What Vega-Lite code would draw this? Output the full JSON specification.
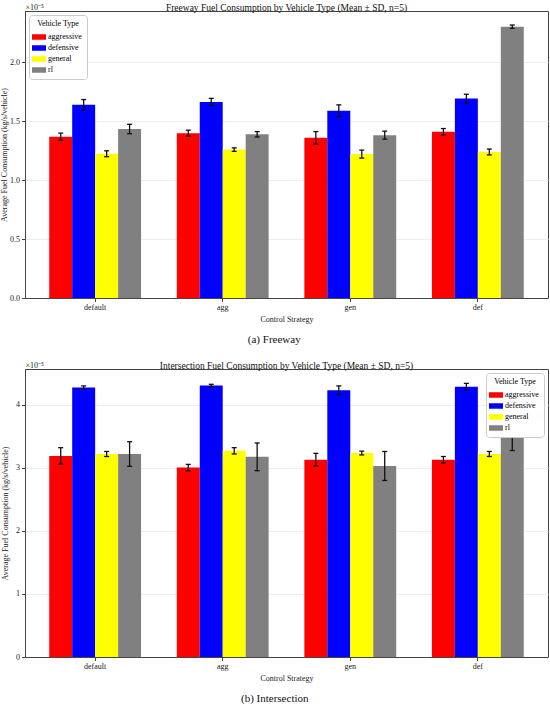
{
  "$schema": "https://vega.github.io/schema/vega-lite/v6.json",
  "padding": {"left": 0, "top": 2, "right": 2, "bottom": 0},
  "spacing": 15,
  "columns": 1,
  "resolve": {"legend": {"color": "independent"}, "scale": {"color": "independent"}},
  "datasets": {
    "freeway": [
      {"strategy": "default", "vehicle": "aggressive", "fuel": 1.37, "lo": 1.34, "hi": 1.40},
      {"strategy": "default", "vehicle": "defensive", "fuel": 1.64, "lo": 1.595, "hi": 1.685},
      {"strategy": "default", "vehicle": "general", "fuel": 1.225, "lo": 1.20, "hi": 1.25},
      {"strategy": "default", "vehicle": "rl", "fuel": 1.435, "lo": 1.395, "hi": 1.475},
      {"strategy": "agg", "vehicle": "aggressive", "fuel": 1.40, "lo": 1.375, "hi": 1.425},
      {"strategy": "agg", "vehicle": "defensive", "fuel": 1.665, "lo": 1.635, "hi": 1.695},
      {"strategy": "agg", "vehicle": "general", "fuel": 1.26, "lo": 1.245, "hi": 1.275},
      {"strategy": "agg", "vehicle": "rl", "fuel": 1.39, "lo": 1.367, "hi": 1.413},
      {"strategy": "gen", "vehicle": "aggressive", "fuel": 1.36, "lo": 1.307, "hi": 1.413},
      {"strategy": "gen", "vehicle": "defensive", "fuel": 1.59, "lo": 1.54, "hi": 1.64},
      {"strategy": "gen", "vehicle": "general", "fuel": 1.222, "lo": 1.188, "hi": 1.256},
      {"strategy": "gen", "vehicle": "rl", "fuel": 1.383, "lo": 1.349, "hi": 1.417},
      {"strategy": "def", "vehicle": "aggressive", "fuel": 1.412, "lo": 1.385, "hi": 1.439},
      {"strategy": "def", "vehicle": "defensive", "fuel": 1.693, "lo": 1.656, "hi": 1.730},
      {"strategy": "def", "vehicle": "general", "fuel": 1.24, "lo": 1.215, "hi": 1.265},
      {"strategy": "def", "vehicle": "rl", "fuel": 2.304, "lo": 2.29, "hi": 2.318}
    ],
    "intersection": [
      {"strategy": "default", "vehicle": "aggressive", "fuel": 3.19, "lo": 3.06, "hi": 3.32},
      {"strategy": "default", "vehicle": "defensive", "fuel": 4.275, "lo": 4.25, "hi": 4.30},
      {"strategy": "default", "vehicle": "general", "fuel": 3.22, "lo": 3.18, "hi": 3.26},
      {"strategy": "default", "vehicle": "rl", "fuel": 3.22, "lo": 3.025, "hi": 3.415},
      {"strategy": "agg", "vehicle": "aggressive", "fuel": 3.005, "lo": 2.955, "hi": 3.055},
      {"strategy": "agg", "vehicle": "defensive", "fuel": 4.305, "lo": 4.285, "hi": 4.325},
      {"strategy": "agg", "vehicle": "general", "fuel": 3.27, "lo": 3.22, "hi": 3.32},
      {"strategy": "agg", "vehicle": "rl", "fuel": 3.175, "lo": 2.955, "hi": 3.395},
      {"strategy": "gen", "vehicle": "aggressive", "fuel": 3.13, "lo": 3.03, "hi": 3.23},
      {"strategy": "gen", "vehicle": "defensive", "fuel": 4.23, "lo": 4.16, "hi": 4.30},
      {"strategy": "gen", "vehicle": "general", "fuel": 3.235, "lo": 3.205, "hi": 3.265},
      {"strategy": "gen", "vehicle": "rl", "fuel": 3.03, "lo": 2.80, "hi": 3.26},
      {"strategy": "def", "vehicle": "aggressive", "fuel": 3.13, "lo": 3.08, "hi": 3.18},
      {"strategy": "def", "vehicle": "defensive", "fuel": 4.285, "lo": 4.23, "hi": 4.34},
      {"strategy": "def", "vehicle": "general", "fuel": 3.22, "lo": 3.18, "hi": 3.26},
      {"strategy": "def", "vehicle": "rl", "fuel": 3.535, "lo": 3.275, "hi": 3.795}
    ]
  },
  "concat": [
    {
      "title": {"text": "(a) Freeway", "orient": "bottom", "anchor": "middle", "fontSize": 11, "offset": 10, "fontWeight": "normal"},
      "resolve": {"legend": {"color": "independent"}, "scale": {"color": "independent"}},
      "vconcat": [
        {
          "width": 523,
          "height": 287,
          "data": {"name": "freeway"},
          "title": {"text": "Freeway Fuel Consumption by Vehicle Type (Mean ± SD, n=5)", "offset": -9},
          "encoding": {
            "x": {"field": "strategy", "type": "nominal", "sort": ["default", "agg", "gen", "def"], "axis": null,
                  "scale": {"paddingInner": 0.28, "paddingOuter": 0.19}},
            "xOffset": {"field": "vehicle", "type": "nominal", "sort": ["aggressive", "defensive", "general", "rl"],
                        "scale": {"paddingInner": 0, "paddingOuter": 0}}
          },
          "resolve": {"axis": {"x": "independent"}},
          "layer": [
            {
              "mark": {"type": "bar"},
              "encoding": {
                "x": {"field": "strategy", "type": "nominal", "sort": ["default", "agg", "gen", "def"],
                      "scale": {"paddingInner": 0.28, "paddingOuter": 0.19},
                      "axis": {"title": "Control Strategy", "labelAngle": 0}},
                "y": {"field": "fuel", "type": "quantitative", "scale": {"domain": [0, 2.437], "nice": false},
                      "axis": {"title": "Average Fuel Consumption (kg/s/vehicle)", "values": [0, 0.5, 1, 1.5, 2], "format": ".1f", "grid": true, "titlePadding": 1}},
                "color": {"field": "vehicle", "type": "nominal", "sort": ["aggressive", "defensive", "general", "rl"],
                          "scale": {"range": ["#ff0000", "#0000ff", "#ffff00", "#808080"]},
                          "legend": {"title": "Vehicle Type", "orient": "top-left", "offset": 4}}
              }
            },
            {
              "mark": {"type": "rule", "color": "#111", "strokeWidth": 1.3},
              "encoding": {
                "x": {"field": "strategy", "type": "nominal", "sort": ["default", "agg", "gen", "def"],
                      "scale": {"paddingInner": 0.28, "paddingOuter": 0.19},
                      "axis": {"orient": "top", "title": "×10⁻⁵", "labels": false, "ticks": false, "domain": false, "grid": false,
                               "titleAnchor": "start", "titleAngle": 0, "titlePadding": 0, "titleX": 0, "titleAlign": "left"}},
                "y": {"field": "lo", "type": "quantitative"},
                "y2": {"field": "hi"}
              }
            },
            {
              "mark": {"type": "tick", "orient": "horizontal", "size": 5, "thickness": 1.3, "color": "#111", "opacity": 1},
              "encoding": {"y": {"field": "lo", "type": "quantitative"}}
            },
            {
              "mark": {"type": "tick", "orient": "horizontal", "size": 5, "thickness": 1.3, "color": "#111", "opacity": 1},
              "encoding": {"y": {"field": "hi", "type": "quantitative"}}
            }
          ]
        }
      ]
    },
    {
      "title": {"text": "(b) Intersection", "orient": "bottom", "anchor": "middle", "fontSize": 11, "offset": 10, "fontWeight": "normal"},
      "resolve": {"legend": {"color": "independent"}, "scale": {"color": "independent"}},
      "vconcat": [
        {
          "width": 523,
          "height": 288,
          "data": {"name": "intersection"},
          "title": {"text": "Intersection Fuel Consumption by Vehicle Type (Mean ± SD, n=5)", "offset": -9},
          "encoding": {
            "x": {"field": "strategy", "type": "nominal", "sort": ["default", "agg", "gen", "def"], "axis": null,
                  "scale": {"paddingInner": 0.28, "paddingOuter": 0.19}},
            "xOffset": {"field": "vehicle", "type": "nominal", "sort": ["aggressive", "defensive", "general", "rl"],
                        "scale": {"paddingInner": 0, "paddingOuter": 0}}
          },
          "resolve": {"axis": {"x": "independent"}},
          "layer": [
            {
              "mark": {"type": "bar"},
              "encoding": {
                "x": {"field": "strategy", "type": "nominal", "sort": ["default", "agg", "gen", "def"],
                      "scale": {"paddingInner": 0.28, "paddingOuter": 0.19},
                      "axis": {"title": "Control Strategy", "labelAngle": 0}},
                "y": {"field": "fuel", "type": "quantitative", "scale": {"domain": [0, 4.568], "nice": false},
                      "axis": {"title": "Average Fuel Consumption (kg/s/vehicle)", "values": [0, 1, 2, 3, 4], "format": "d", "grid": true, "titlePadding": 6}},
                "color": {"field": "vehicle", "type": "nominal", "sort": ["aggressive", "defensive", "general", "rl"],
                          "scale": {"range": ["#ff0000", "#0000ff", "#ffff00", "#808080"]},
                          "legend": {"title": "Vehicle Type", "orient": "top-right", "offset": 4}}
              }
            },
            {
              "mark": {"type": "rule", "color": "#111", "strokeWidth": 1.3},
              "encoding": {
                "x": {"field": "strategy", "type": "nominal", "sort": ["default", "agg", "gen", "def"],
                      "scale": {"paddingInner": 0.28, "paddingOuter": 0.19},
                      "axis": {"orient": "top", "title": "×10⁻⁵", "labels": false, "ticks": false, "domain": false, "grid": false,
                               "titleAnchor": "start", "titleAngle": 0, "titlePadding": 0, "titleX": 0, "titleAlign": "left"}},
                "y": {"field": "lo", "type": "quantitative"},
                "y2": {"field": "hi"}
              }
            },
            {
              "mark": {"type": "tick", "orient": "horizontal", "size": 5, "thickness": 1.3, "color": "#111", "opacity": 1},
              "encoding": {"y": {"field": "lo", "type": "quantitative"}}
            },
            {
              "mark": {"type": "tick", "orient": "horizontal", "size": 5, "thickness": 1.3, "color": "#111", "opacity": 1},
              "encoding": {"y": {"field": "hi", "type": "quantitative"}}
            }
          ]
        }
      ]
    }
  ],
  "config": {
    "font": "Liberation Serif",
    "view": {"stroke": "#444", "strokeWidth": 1},
    "title": {"fontSize": 9.5, "fontWeight": "normal", "color": "#111"},
    "axis": {
      "labelFontSize": 8, "titleFontSize": 8, "titleFontWeight": "normal",
      "labelColor": "#222", "titleColor": "#222",
      "tickColor": "#444", "tickSize": 3.5, "domainColor": "#444",
      "gridColor": "#eeeeee", "labelPadding": 2, "titlePadding": 4
    },
    "legend": {
      "fillColor": "white", "strokeColor": "#cccccc", "cornerRadius": 3, "padding": 5,
      "titleFontSize": 8, "titleFontWeight": "normal", "titleAnchor": "middle", "titlePadding": 4,
      "labelFontSize": 8, "rowPadding": 2,
      "symbolType": "M-1.4,-0.55H1.4V0.55H-1.4Z", "symbolSize": 100, "symbolStrokeWidth": 0, "symbolOpacity": 1
    }
  }
}
